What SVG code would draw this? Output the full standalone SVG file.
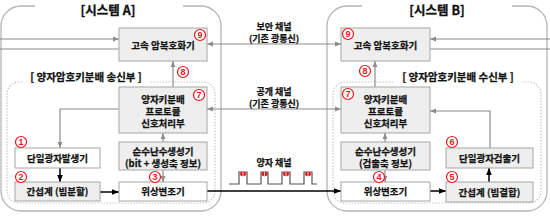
<svg xmlns="http://www.w3.org/2000/svg" width="550" height="218" viewBox="0 0 550 218">
<style>
.frame{fill:none;stroke:#b4b4b4;stroke-width:1.3}
.inner{fill:none;stroke:#c4c4c4;stroke-width:1.2;stroke-dasharray:1.5 1.5}
.box{stroke:#a6a6a6;stroke-width:1}
.g{fill:#eeeeee}
.w{fill:#ffffff}
.t{font-family:"Noto Sans CJK KR","Noto Sans",sans-serif;font-weight:bold;font-size:9.5px;fill:#111;stroke:#111;stroke-width:0.25;text-anchor:middle}
.lbl{font-family:"Noto Sans CJK KR","Noto Sans",sans-serif;font-weight:bold;font-size:9px;fill:#111;stroke:#111;stroke-width:0.25;text-anchor:middle}
.title{font-family:"Noto Sans CJK KR","Noto Sans",sans-serif;font-weight:bold;font-size:12.5px;fill:#111;stroke:#111;stroke-width:0.3;text-anchor:middle}
.sub{font-family:"Noto Sans CJK KR","Noto Sans",sans-serif;font-weight:bold;font-size:10.5px;fill:#111;stroke:#111;stroke-width:0.25;text-anchor:middle}
.gl{fill:none;stroke:#8c8c8c;stroke-width:1.2}
.bl{fill:none;stroke:#000;stroke-width:1.5}
.num circle{fill:#fff;stroke:#e8161b;stroke-width:1.2}
.num text{font-family:"Liberation Sans",sans-serif;font-weight:bold;font-size:9px;fill:#e8161b;text-anchor:middle}
.pulse{fill:none;stroke:#555;stroke-width:1.2}
.mk{fill:#e8161b}
</style>
<defs>
<marker id="ag" viewBox="0 0 10 10" refX="10" refY="5" markerWidth="6" markerHeight="6" markerUnits="userSpaceOnUse" orient="auto-start-reverse"><path d="M0,1 L10,5 L0,9 z" fill="#8c8c8c"/></marker>
<marker id="ab" viewBox="0 0 10 10" refX="10" refY="5" markerWidth="7" markerHeight="7" markerUnits="userSpaceOnUse" orient="auto-start-reverse"><path d="M0,1 L10,5 L0,9 z" fill="#000"/></marker>
</defs>

<g id="systemA-frame">
<path class="frame" d="M35,6 H21 A20,20 0 0 0 1,26 V191 A20,20 0 0 0 21,211 H201 A20,20 0 0 0 221,191 V26 A20,20 0 0 0 201,6 H183"/>
<text class="title" x="108" y="14.5">[시스템 A]</text>
<path class="inner" d="M22,82 H19 A12,12 0 0 0 7,94 V191 A12,12 0 0 0 19,203 H203 A12,12 0 0 0 215,191 V94 A12,12 0 0 0 203,82 H150"/>
<text class="sub" x="86" y="81">[ 양자암호키분배 송신부 ]</text>
</g>

<g id="systemB-frame">
<path class="frame" d="M362,6 H347 A20,20 0 0 0 327,26 V191 A20,20 0 0 0 347,211 H527 A20,20 0 0 0 547,191 V26 A20,20 0 0 0 527,6 H512"/>
<text class="title" x="437" y="14.5">[시스템 B]</text>
<path class="inner" d="M393,82 H345 A12,12 0 0 0 333,94 V191 A12,12 0 0 0 345,203 H529 A12,12 0 0 0 541,191 V94 A12,12 0 0 0 529,82 H522"/>
<text class="sub" x="458" y="81">[ 양자암호키분배 수신부 ]</text>
</g>

<g id="connectors">
<line class="gl" x1="0" y1="39" x2="119" y2="39" marker-end="url(#ag)"/>
<line class="gl" x1="0" y1="49" x2="119" y2="49"/>
<line class="gl" x1="550" y1="39" x2="430" y2="39" marker-end="url(#ag)"/>
<line class="gl" x1="430" y1="49" x2="550" y2="49"/>
<line class="gl" x1="207" y1="44" x2="341" y2="44" marker-start="url(#ag)" marker-end="url(#ag)"/>
<line class="gl" x1="207" y1="109" x2="341" y2="109" marker-start="url(#ag)" marker-end="url(#ag)"/>
<line class="gl" x1="173" y1="87" x2="173" y2="61" marker-end="url(#ag)"/>
<line class="gl" x1="375" y1="87" x2="375" y2="61" marker-end="url(#ag)"/>
<polyline class="gl" points="119,109 60,109 60,148" marker-end="url(#ag)"/>
<line class="gl" x1="163" y1="142" x2="163" y2="133" marker-end="url(#ag)"/>
<line class="gl" x1="163" y1="170" x2="163" y2="182" marker-end="url(#ag)"/>
<line class="gl" x1="385" y1="142" x2="385" y2="133" marker-end="url(#ag)"/>
<line class="gl" x1="385" y1="170" x2="385" y2="182" marker-end="url(#ag)"/>
<polyline class="gl" points="490,148 490,111 430,111" marker-end="url(#ag)"/>
<line class="bl" x1="60" y1="168" x2="60" y2="182" marker-end="url(#ab)"/>
<line class="bl" x1="100" y1="192" x2="119" y2="192" marker-end="url(#ab)"/>
<line class="bl" x1="207" y1="191" x2="341" y2="191" marker-end="url(#ab)"/>
<line class="bl" x1="430" y1="191" x2="446" y2="191" marker-end="url(#ab)"/>
<line class="bl" x1="489" y1="182" x2="489" y2="168" marker-end="url(#ab)"/>
</g>

<g id="channel-labels">
<text class="lbl" x="274" y="30">보안 채널<tspan x="274" dy="11.5">(기존 광통신)</tspan></text>
<text class="lbl" x="274" y="95">공개 채널<tspan x="274" dy="11.5">(기존 광통신)</tspan></text>
<text class="lbl" x="274" y="165.5">양자 채널</text>
</g>

<g id="quantum-pulses">
<polyline class="pulse" points="229,184 239,184 239,172 247,172 247,184 261,184 261,172 268,172 268,184 282,184 282,172 290,172 290,184 304,184 304,172 312,172 312,184 317,184"/>
<g class="mk">
<ellipse cx="243" cy="174" rx="3" ry="2.2"/>
<ellipse cx="264.5" cy="174" rx="3" ry="2.2"/>
<ellipse cx="286" cy="174" rx="3" ry="2.2"/>
<ellipse cx="308" cy="174" rx="3" ry="2.2"/>
</g>
<g stroke="#fff" stroke-width="0.8">
<line x1="243" y1="172" x2="243" y2="176"/>
<line x1="264.5" y1="172" x2="264.5" y2="176"/>
<line x1="286" y1="172" x2="286" y2="176"/>
<line x1="308" y1="172" x2="308" y2="176"/>
</g>
</g>

<g id="A-crypto">
<rect class="box g" x="119" y="28" width="88" height="33"/>
<text class="t" x="163" y="48.5">고속 암복호화기</text>
</g>
<g id="A-protocol">
<rect class="box g" x="119" y="87" width="88" height="46"/>
<text class="t" x="163" y="102.5">양자키분배<tspan x="163" dy="12">프로토콜</tspan><tspan x="163" dy="12">신호처리부</tspan></text>
</g>
<g id="A-rng">
<rect class="box g" x="119" y="142" width="88" height="28"/>
<text class="t" x="163" y="155">순수난수생성기<tspan x="163" dy="12">(bit + 생성축 정보)</tspan></text>
</g>
<g id="A-modulator">
<rect class="box w" x="119" y="182" width="88" height="19"/>
<text class="t" x="163" y="195">위상변조기</text>
</g>
<g id="A-source">
<rect class="box w" x="15" y="148" width="85" height="20"/>
<text class="t" x="57.5" y="161.5">단일광자발생기</text>
</g>
<g id="A-interferometer">
<rect class="box g" x="15" y="182" width="85" height="19"/>
<text class="t" x="57.5" y="195">간섭계 (빔분할)</text>
</g>

<g id="B-crypto">
<rect class="box g" x="341" y="28" width="89" height="33"/>
<text class="t" x="385.5" y="48.5">고속 암복호화기</text>
</g>
<g id="B-protocol">
<rect class="box g" x="341" y="87" width="89" height="46"/>
<text class="t" x="385.5" y="102.5">양자키분배<tspan x="385.5" dy="12">프로토콜</tspan><tspan x="385.5" dy="12">신호처리부</tspan></text>
</g>
<g id="B-rng">
<rect class="box g" x="341" y="142" width="89" height="28"/>
<text class="t" x="385.5" y="155">순수난수생성기<tspan x="385.5" dy="12">(검출축 정보)</tspan></text>
</g>
<g id="B-modulator">
<rect class="box w" x="341" y="182" width="89" height="19"/>
<text class="t" x="385.5" y="195">위상변조기</text>
</g>
<g id="B-detector">
<rect class="box g" x="446" y="148" width="87" height="20"/>
<text class="t" x="489.5" y="161.5">단일광자검출기</text>
</g>
<g id="B-interferometer">
<rect class="box g" x="446" y="182" width="87" height="20"/>
<text class="t" x="489.5" y="195.5">간섭계 (빔결합)</text>
</g>

<g id="step-numbers" class="num">
<g><circle cx="200" cy="35" r="5.5"/><text x="200" y="38.2">9</text></g>
<g><circle cx="348" cy="34" r="5.5"/><text x="348" y="37.2">9</text></g>
<g><circle cx="183" cy="72" r="5.5"/><text x="183" y="75.2">8</text></g>
<g><circle cx="365" cy="71" r="5.5"/><text x="365" y="74.2">8</text></g>
<g><circle cx="199" cy="95" r="5.5"/><text x="199" y="98.2">7</text></g>
<g><circle cx="348" cy="94" r="5.5"/><text x="348" y="97.2">7</text></g>
<g><circle cx="21" cy="142" r="5.5"/><text x="21" y="145.2">1</text></g>
<g><circle cx="21" cy="177" r="5.5"/><text x="21" y="180.2">2</text></g>
<g><circle cx="155" cy="177" r="5.5"/><text x="155" y="180.2">3</text></g>
<g><circle cx="379" cy="177" r="5.5"/><text x="379" y="180.2">4</text></g>
<g><circle cx="452" cy="177" r="5.5"/><text x="452" y="180.2">5</text></g>
<g><circle cx="452" cy="142" r="5.5"/><text x="452" y="145.2">6</text></g>
</g>
</svg>
